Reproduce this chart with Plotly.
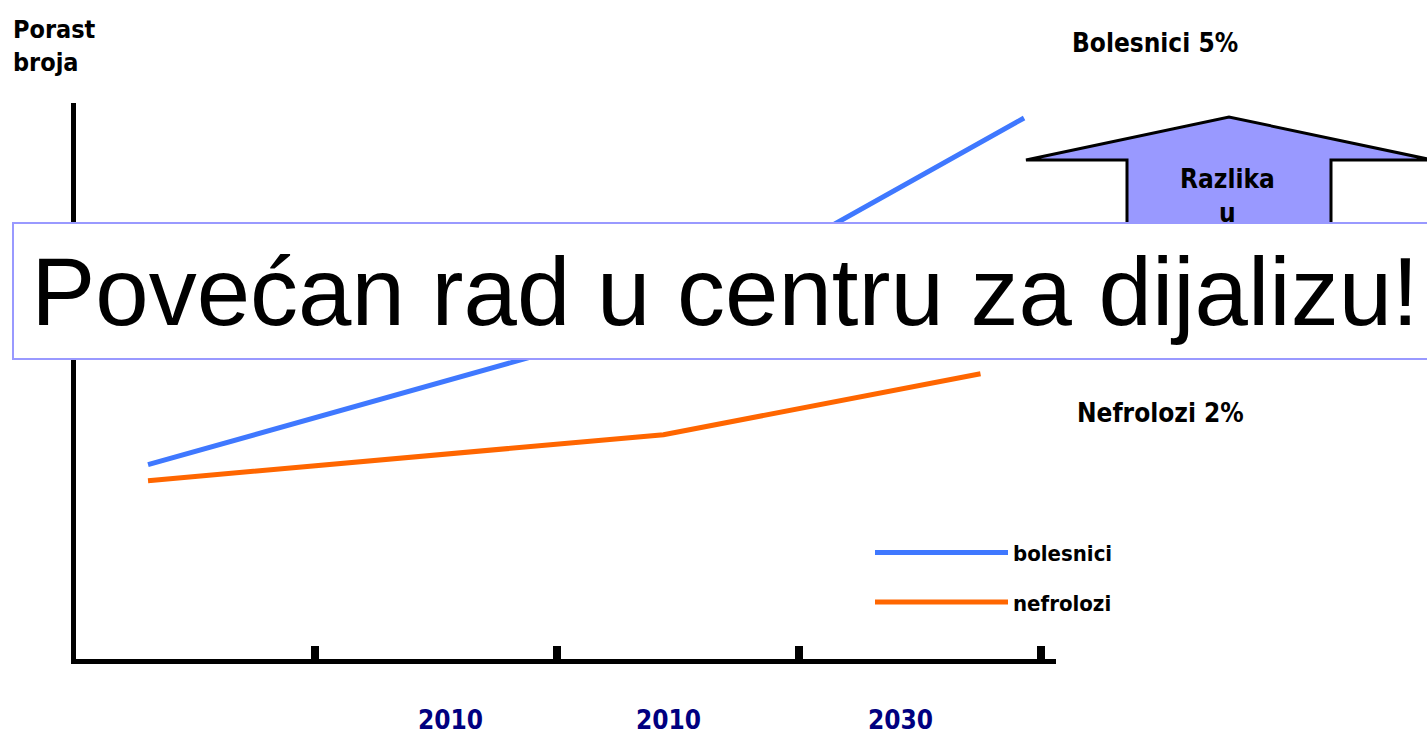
import plotly.graph_objects as go

# ---- data ----
series_names = ["bolesnici", "nefrolozi"]
bolesnici_x = [0.31, 2.44, 3.93]
bolesnici_y = [1.97, 3.42, 5.44]
nefrolozi_x = [0.31, 2.44, 3.75]
nefrolozi_y = [1.81, 2.27, 2.88]
tick_positions = [1, 2, 3, 4]
year_label_pos = [1.56, 2.46, 3.42]
year_labels = ["2010", "2010", "2030"]

W, H = 1427, 742
# plot area in pixels
L, R, T, B = 76, 1056, 103, 659.5
# axis origin / scale (pixels)
OX, OY, XS, YS = 73, 662, 242, 100


def px(x):
    return (x - L) / (R - L)


def py(y):
    return (B - y) / (B - T)


COND = "DejaVu Sans Condensed, DejaVu Sans, sans-serif"
BLUE = "#3f78ff"
ORANGE = "#ff6600"

fig = go.Figure()
fig.add_trace(go.Scatter(x=bolesnici_x, y=bolesnici_y, mode="lines", name=series_names[0],
                         legendgroup="a", line=dict(color=BLUE, width=5)))
fig.add_trace(go.Scatter(x=nefrolozi_x, y=nefrolozi_y, mode="lines", name=series_names[1],
                         legendgroup="b", line=dict(color=ORANGE, width=5)))

# arrow polygon (paper coords)
pts = [(1026, 160), (1229, 117), (1432, 160), (1331, 160), (1331, 300),
       (1127, 300), (1127, 160)]
path = "M " + " L ".join(f"{px(a):.5f},{py(b):.5f}" for a, b in pts) + " Z"

annotations = []
annotations.append(dict(text="Porast<br>broja", x=px(11), y=py(13), xref="paper", yref="paper",
                        xanchor="left", yanchor="top", align="left", showarrow=False,
                        font=dict(family=COND, size=25, color="black", weight="bold")))
annotations.append(dict(text="Bolesnici 5%", x=px(1155), y=py(43), xref="paper", yref="paper",
                        xanchor="center", yanchor="middle", showarrow=False,
                        font=dict(family=COND, size=26, color="black", weight="bold")))
annotations.append(dict(text="Nefrolozi 2%", x=px(1160), y=py(413), xref="paper", yref="paper",
                        xanchor="center", yanchor="middle", showarrow=False,
                        font=dict(family=COND, size=26, color="black", weight="bold")))
annotations.append(dict(text="Razlika<br>u", x=px(1227), y=py(162), xref="paper", yref="paper",
                        xanchor="center", yanchor="top", showarrow=False,
                        font=dict(family=COND, size=26, color="black", weight="bold")))
for xv, lab in zip(year_label_pos, year_labels):
    annotations.append(dict(text=lab, x=xv, y=py(721), xref="x", yref="paper",
                            xanchor="center", yanchor="middle", showarrow=False,
                            font=dict(family=COND, size=26, color="#000080", weight="bold")))
# banner box on top
annotations.append(dict(text="Povećan rad u centru za dijalizu!", x=px(725), y=py(291),
                        xref="paper", yref="paper", xanchor="center", yanchor="middle",
                        showarrow=False, width=1422, height=134, borderpad=0,
                        bgcolor="white", bordercolor="#9999ff", borderwidth=2,
                        font=dict(family="Liberation Sans, Arial, sans-serif", size=96,
                                  color="black")))

fig.update_layout(
    width=W, height=H,
    margin=dict(l=L, r=W - R, t=T, b=H - B, pad=0),
    paper_bgcolor="white", plot_bgcolor="white",
    xaxis=dict(range=[(L - OX) / XS, (R - OX) / XS], showgrid=False, zeroline=False,
               showline=True, linecolor="black", linewidth=5, ticks="inside", ticklen=13,
               tickwidth=8, tickcolor="black", tickvals=tick_positions,
               showticklabels=False),
    yaxis=dict(range=[(OY - B) / YS, (OY - T) / YS], showgrid=False, zeroline=False,
               showline=True, linecolor="black", linewidth=5, ticks="",
               showticklabels=False),
    shapes=[dict(type="path", path=path, xref="paper", yref="paper",
                 fillcolor="#9999ff", line=dict(color="black", width=3), layer="above")],
    annotations=annotations,
    legend=dict(x=px(870), y=py(532), xanchor="left", yanchor="top",
                bgcolor="rgba(0,0,0,0)", itemwidth=133, tracegroupgap=18,
                font=dict(family=COND, size=22, color="black", weight="bold")),
    showlegend=True,
)

fig.write_html("out.html", config={"displayModeBar": False},
               post_script="document.body.style.margin='0';document.body.style.overflow='hidden';")
